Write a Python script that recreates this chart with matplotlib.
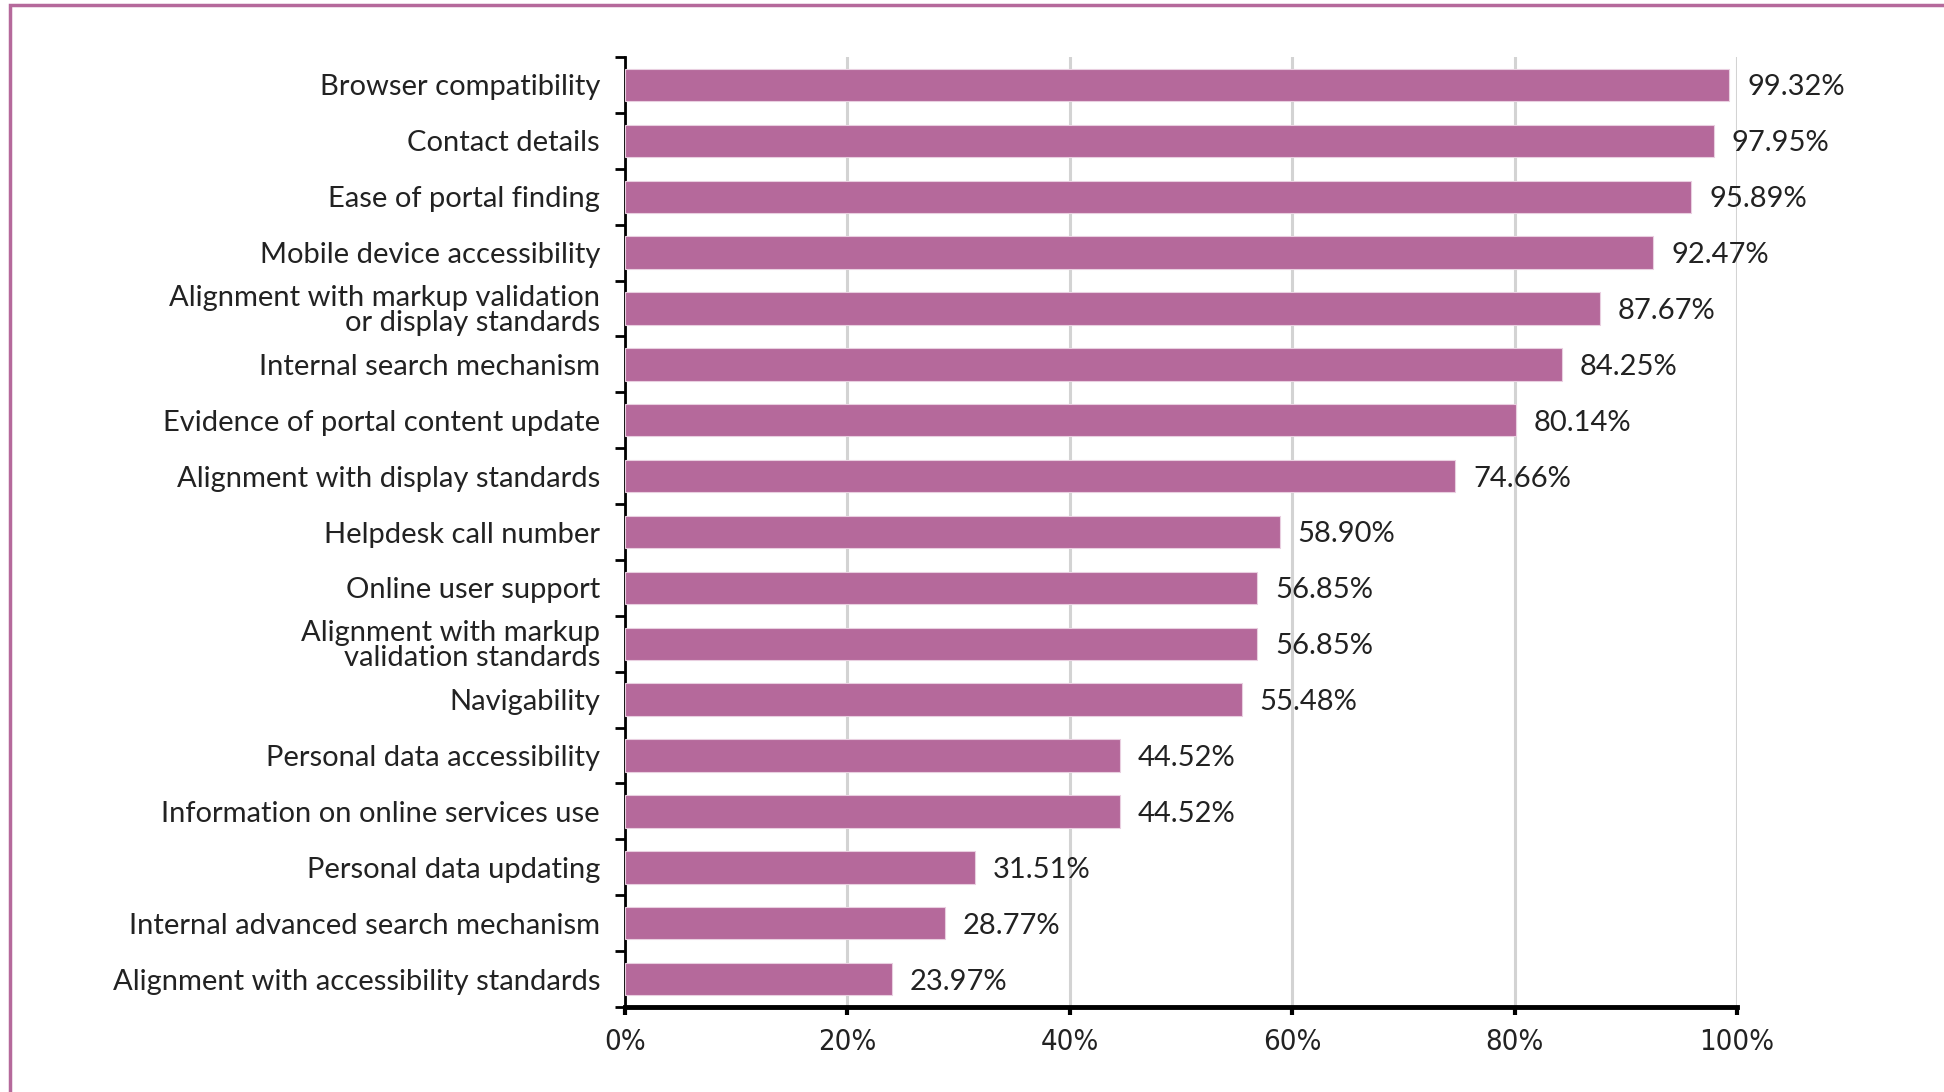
import matplotlib
matplotlib.use("Agg")
import matplotlib.pyplot as plt
import numpy as np
from matplotlib.patches import Rectangle

labels = [
    "Browser compatibility",
    "Contact details",
    "Ease of portal finding",
    "Mobile device accessibility",
    "Alignment with markup validation\nor display standards",
    "Internal search mechanism",
    "Evidence of portal content update",
    "Alignment with display standards",
    "Helpdesk call number",
    "Online user support",
    "Alignment with markup\nvalidation standards",
    "Navigability",
    "Personal data accessibility",
    "Information on online services use",
    "Personal data updating",
    "Internal advanced search mechanism",
    "Alignment with accessibility standards",
]
values = [99.32, 97.95, 95.89, 92.47, 87.67, 84.25, 80.14, 74.66, 58.90,
          56.85, 56.85, 55.48, 44.52, 44.52, 31.51, 28.77, 23.97]
xticks = [0, 20, 40, 60, 80, 100]

bar_color = "#b5699b"
font = ["Lato", "DejaVu Sans"]
txt_color = "#222222"

fig = plt.figure(figsize=(19.44, 10.92), dpi=100)

# frame around the figure (cut off right / bottom like the source)
fig.patches.append(Rectangle((10 / 1944, -0.1), 1.2, 1.1 - 5 / 1092,
                             transform=fig.transFigure, fill=False,
                             edgecolor=bar_color, linewidth=2.5))

ax = fig.add_axes([625 / 1944, 1 - 1007 / 1092, (1737 - 625) / 1944, (1007 - 57) / 1092])

y = np.arange(len(labels))
ax.barh(y, values, height=0.58, color=bar_color, edgecolor="#e9cfe0", linewidth=0.8, zorder=3)

for yi, v in zip(y, values):
    ax.text(v + 1.6, yi, "%.2f%%" % v, va="center_baseline", ha="left",
            fontsize=21, family=font, color=txt_color)

ax.set_xlim(0, 100)
ax.set_ylim(len(labels) - 0.5, -0.5)

ax.set_yticks(y)
ax.set_yticklabels(labels, fontsize=21, family=font, color=txt_color,
                   linespacing=0.95)
ax.tick_params(axis="y", which="major", length=0, pad=18)
ax.set_yticks(np.arange(len(labels) + 1) - 0.5, minor=True)
ax.tick_params(axis="y", which="minor", length=7, width=2, direction="out")

ax.set_xticks(xticks)
ax.set_xticklabels(["%d%%" % t for t in xticks], fontsize=21,
                   family="DejaVu Sans", stretch="condensed", color=txt_color)
ax.tick_params(axis="x", length=6, width=3, pad=9)

ax.grid(axis="x", color="#d3d3d3", linewidth=2.2, zorder=0)
ax.set_axisbelow(True)

for s in ["top", "right"]:
    ax.spines[s].set_visible(False)
ax.spines["left"].set_linewidth(2)
ax.spines["bottom"].set_linewidth(3.5)

fig.savefig("out.png", dpi=100)
